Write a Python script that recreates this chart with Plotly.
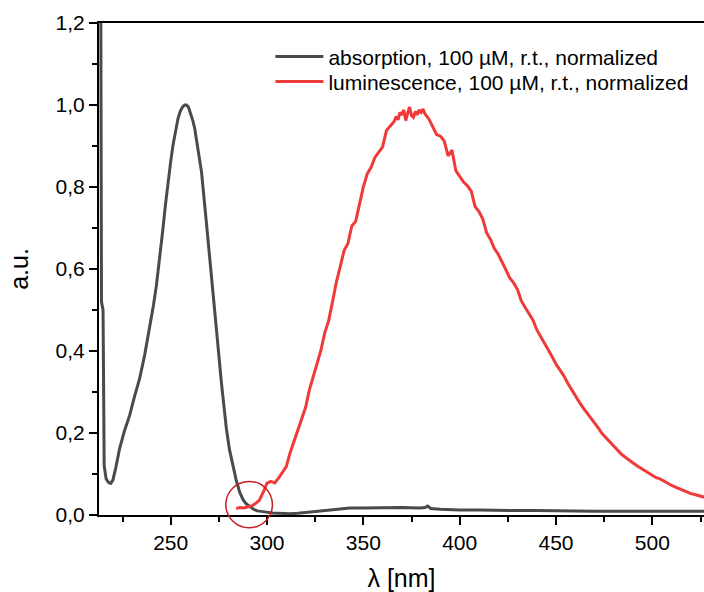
import plotly.graph_objects as go

# ---------------- data ----------------
abs_nm = [213.0, 213.6, 213.8, 214.0, 214.1, 214.9, 215.1, 215.3, 215.5, 216.5, 217.8, 218.9,
          220.0, 221.5, 223.5, 226.0, 228.7, 231.0, 233.9, 236.5, 239.1, 241.0, 242.6, 244.3,
          246.0, 247.3, 248.6, 250.0, 251.2, 252.5, 253.8, 255.0, 256.3, 257.3, 258.2, 259.2,
          260.3, 261.5, 262.5, 264.0, 266.0, 268.5, 271.1, 273.7, 276.3, 278.9, 280.5, 282.3,
          284.0, 285.8, 287.5, 289.0, 291.0, 293.0, 295.0, 297.0, 299.7, 303.0, 307.0, 311.8,
          316.0, 320.0, 325.0, 330.0, 334.1, 338.0, 343.0, 350.0, 360.0, 370.0, 379.0, 382.0,
          383.4, 385.0, 390.0, 395.0, 400.0, 410.0, 420.0, 430.0, 440.0, 450.0, 460.0, 470.0,
          480.0, 490.0, 500.0, 510.0, 520.0, 527.0]
abs_val = [1.80, 1.60, 1.10, 0.75, 0.52, 0.50, 0.35, 0.18, 0.12, 0.088, 0.079, 0.077,
           0.085, 0.115, 0.162, 0.205, 0.243, 0.285, 0.333, 0.390, 0.455, 0.510, 0.560, 0.625,
           0.699, 0.757, 0.812, 0.862, 0.902, 0.938, 0.967, 0.985, 0.996, 1.000, 1.000, 0.995,
           0.980, 0.962, 0.942, 0.895, 0.837, 0.715, 0.593, 0.455, 0.324, 0.211, 0.160, 0.121,
           0.085, 0.056, 0.038, 0.028, 0.020, 0.014, 0.010, 0.008, 0.007, 0.005, 0.004, 0.003,
           0.004, 0.006, 0.009, 0.012, 0.014, 0.016, 0.017, 0.017, 0.018, 0.018, 0.017, 0.018,
           0.022, 0.016, 0.014, 0.013, 0.012, 0.012, 0.011, 0.011, 0.011, 0.010, 0.009, 0.009,
           0.009, 0.009, 0.009, 0.009, 0.009, 0.009]

lum_nm = [284, 286, 288, 290, 292, 294, 296, 298, 300, 302, 304, 306, 308, 310, 312, 314, 316,
          318, 320, 322, 324, 326, 328, 330, 332, 334, 336, 338, 340, 342, 344, 346, 348, 350,
          352, 354, 356, 358, 360, 362, 364, 366, 367, 368, 369, 370, 371, 372, 373, 374, 375,
          376, 377, 378, 379, 380, 381, 382, 384, 386, 388, 390, 392, 394, 396, 398, 400, 402,
          404, 406, 408, 410, 412, 414, 416, 418, 420, 422, 424, 426, 428, 430, 432, 434, 436,
          438, 440, 442, 444, 446, 448, 450, 452, 454, 456, 458, 460, 462, 464, 466, 468, 470,
          472, 474, 476, 478, 480, 482, 484, 486, 488, 490, 492, 494, 496, 498, 500, 502, 504,
          506, 508, 510, 512, 514, 516, 518, 520, 522, 524, 526, 528]
lum_val = [0.016, 0.018, 0.017, 0.020, 0.022, 0.028, 0.036, 0.055, 0.078, 0.082, 0.078, 0.090,
           0.104, 0.118, 0.152, 0.180, 0.205, 0.232, 0.262, 0.305, 0.338, 0.372, 0.402, 0.445,
           0.474, 0.520, 0.568, 0.606, 0.645, 0.662, 0.705, 0.716, 0.762, 0.800, 0.832, 0.848,
           0.872, 0.886, 0.898, 0.938, 0.950, 0.960, 0.972, 0.964, 0.982, 0.976, 0.988, 0.962,
           0.980, 0.995, 0.974, 0.970, 0.984, 0.976, 0.988, 0.982, 0.990, 0.978, 0.966, 0.945,
           0.928, 0.924, 0.912, 0.876, 0.890, 0.840, 0.826, 0.812, 0.803, 0.790, 0.752, 0.740,
           0.722, 0.688, 0.672, 0.650, 0.636, 0.618, 0.598, 0.578, 0.566, 0.550, 0.522, 0.506,
           0.490, 0.476, 0.452, 0.436, 0.418, 0.404, 0.386, 0.368, 0.354, 0.340, 0.322, 0.306,
           0.290, 0.276, 0.262, 0.250, 0.238, 0.226, 0.212, 0.198, 0.188, 0.176, 0.166, 0.157,
           0.148, 0.141, 0.133, 0.127, 0.120, 0.114, 0.108, 0.102, 0.096, 0.091, 0.088, 0.082,
           0.078, 0.072, 0.068, 0.064, 0.060, 0.055, 0.052, 0.050, 0.047, 0.044, 0.042]

abs_name = "absorption, 100 µM, r.t., normalized"
lum_name = "luminescence, 100 µM, r.t., normalized"

x_range = [212.8, 526.8]
y_range = [0.0, 1.2]
x_tickvals = [250, 300, 350, 400, 450, 500]
y_tickvals = [0.0, 0.2, 0.4, 0.6, 0.8, 1.0, 1.2]
y_ticktext = ["0,0", "0,2", "0,4", "0,6", "0,8", "1,0", "1,2"]

# highlighted region (circle) in data units
circle_x = [278.6, 302.8]
circle_y = [-0.031, 0.082]

# ---------------- figure ----------------
fig = go.Figure()
fig.add_trace(go.Scatter(x=abs_nm, y=abs_val, mode="lines", name=abs_name,
                         line=dict(color="#4a4a4a", width=3), legend="legend"))
fig.add_trace(go.Scatter(x=lum_nm, y=lum_val, mode="lines", name=lum_name,
                         line=dict(color="#f03a3a", width=3), legend="legend2"))

def to_paper(v, rng):
    return (v - rng[0]) / (rng[1] - rng[0])

fig.add_shape(type="circle", xref="paper", yref="paper",
              x0=to_paper(circle_x[0], x_range), x1=to_paper(circle_x[1], x_range),
              y0=to_paper(circle_y[0], y_range), y1=to_paper(circle_y[1], y_range),
              line=dict(color="#c81e1e", width=1.5), layer="above")

font_family = "Liberation Sans, Arial, sans-serif"
legend_common = dict(xanchor="left", yanchor="top", bgcolor="rgba(0,0,0,0)",
                     font=dict(size=21, color="black"), itemwidth=48)
fig.update_layout(
    width=704, height=592,
    margin=dict(l=99, r=0, t=23, b=77, autoexpand=False),
    paper_bgcolor="white", plot_bgcolor="white",
    font=dict(family=font_family, size=21, color="black"),
    showlegend=True,
    legend=dict(x=0.2833, y=0.973, **legend_common),
    legend2=dict(x=0.2833, y=0.922, **legend_common),
    xaxis=dict(range=x_range, tickvals=x_tickvals, ticks="outside", ticklen=8, tickwidth=2,
               tickcolor="black", showline=True, linecolor="black", linewidth=2,
               mirror=True, showgrid=False, zeroline=False, automargin=True,
               minor=dict(dtick=25, tick0=0, ticks="outside", ticklen=5, tickwidth=2,
                          tickcolor="black", showgrid=False),
               title=dict(text="λ [nm]", standoff=18)),
    yaxis=dict(range=y_range, tickvals=y_tickvals, ticktext=y_ticktext, ticks="outside",
               ticklen=8, tickwidth=2, tickcolor="black", showline=True, linecolor="black",
               linewidth=2, mirror=False, showgrid=False, zeroline=False, automargin=True,
               minor=dict(dtick=0.1, tick0=0, ticks="outside", ticklen=5, tickwidth=2,
                          tickcolor="black", showgrid=False),
               title=dict(text="a.u.", standoff=20)),
)

fig.write_html("out.html", config={"displayModeBar": False},
               post_script="document.body.style.margin='0px';document.body.style.overflow='hidden';")
